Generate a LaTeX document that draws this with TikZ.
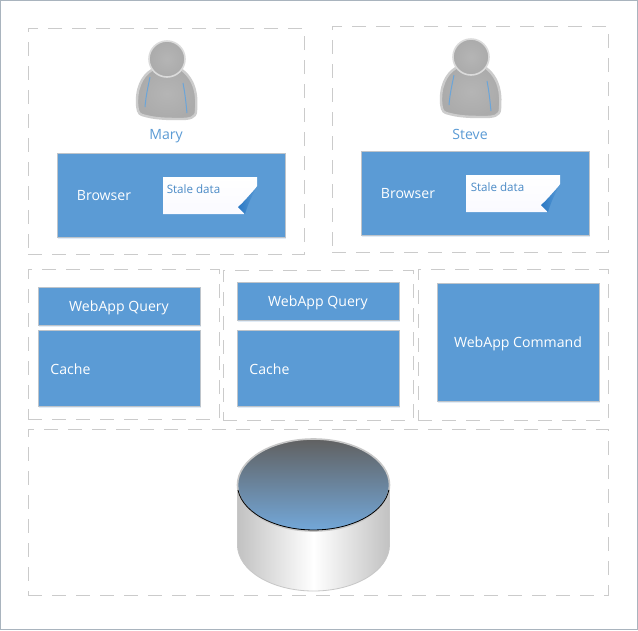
\documentclass[tikz,border=0pt]{standalone}
\usepackage{fontspec}
\setmainfont{Open Sans}
\usetikzlibrary{shadows}
\definecolor{boxblue}{HTML}{5B9BD5}
\definecolor{boxedge}{HTML}{BEC4CA}
\definecolor{dashgrey}{HTML}{CBCBCB}
\definecolor{frameg}{HTML}{A9B4BE}
\definecolor{labelblue}{HTML}{5B9BD5}
\definecolor{notetext}{HTML}{4A8AC6}
\definecolor{folddark}{HTML}{2A78C4}
\definecolor{dbtop}{HTML}{73A8DA}
\tikzset{
  x=1pt,y=-1pt,
  group/.style={draw=dashgrey,line width=1pt,dash pattern=on 14pt off 10pt,inner sep=0pt,
    minimum width=#1},
  group/.default=10pt,
  bluebox/.style={draw=boxedge,line width=1pt,fill=boxblue,inner sep=0pt,
    drop shadow={shadow xshift=1pt,shadow yshift=-2pt,fill=boxblue,opacity=.18}},
  boxtext/.style={text=white,font=\fontsize{14.1}{17}\selectfont,inner sep=0pt},
  nametext/.style={text=labelblue,font=\fontsize{14.1}{17}\selectfont,inner sep=0pt},
  notelabel/.style={text=notetext,font=\fontsize{11.6}{13}\selectfont,inner sep=0pt},
  person/.pic={
    % body
    \path[draw=black!20,line width=2.4pt,inner color=black!29,outer color=black!33,line join=round]
      (-11,9) .. controls (-22,13) and (-30,25) .. (-30,42)
      .. controls (-30,50) and (-29,55) .. (-25,56)
      .. controls (-12,60) and (0,60) .. (14,60)
      .. controls (22,60) and (29,59) .. (29,52)
      .. controls (30,40) and (30,20) .. (12,9)
      .. controls (5,14) and (-5,14) .. (-11,9) -- cycle;
    \draw[boxblue!90!white,line width=1pt] (-17,18) .. controls (-19,28) and (-21,36) .. (-22,48);
    \draw[boxblue!90!white,line width=1pt] (16,24) .. controls (18,34) and (19,44) .. (20,54);
    % head
    \path[draw=black!14,line width=1.6pt,inner color=black!29,outer color=black!33]
      (0,0) circle[radius=18];
  },
  stickynote/.pic={
    \path[draw=none,top color=white,bottom color=black!4!blue!2!white]
      (0,0) -- (94,0) -- (94,9) .. controls (88,18) and (84,28) .. (81,37) -- (0,37) -- cycle;
    \path[left color=folddark,right color=boxblue]
      (94,10) .. controls (88,20) and (84,30) .. (82,37) -- (75,30) .. controls (82,24) and (88,16) .. (94,10) -- cycle;
  },
}
\begin{document}
\begin{tikzpicture}
\useasboundingbox (0,0) rectangle (638,630);
\fill[white] (0,0) rectangle (638,630);
\draw[frameg,line width=1pt] (0.5,0.5) rectangle (637.5,629.5);

% dashed groups
\node[group=276pt,minimum height=226pt] (gmary) at (166,141) {};
\node[group=276pt,minimum height=226pt] (gsteve) at (470,139) {};
\node[group=191pt,minimum height=150pt] (gone) at (123.5,344) {};
\node[group=190pt,minimum height=150pt] (gtwo) at (318,345) {};
\node[group=190pt,minimum height=151pt] (gthree) at (513,344.5) {};
\node[group=580pt,minimum height=166pt] (gdb) at (318,512) {};

% people
\pic at (167,59) {person};
\pic at (471,57) {person};
\node[nametext] (mary) at (166,136) {Mary};
\node[nametext] (steve) at (470,134) {Steve};

% browsers
\node[bluebox,minimum width=228pt,minimum height=84pt] (bmary) at (171,195) {};
\node[bluebox,minimum width=228pt,minimum height=84pt] (bsteve) at (475,193) {};
\node[boxtext] (tbmary) at (104,196) {Browser};
\node[boxtext] (tbsteve) at (408,194) {Browser};
\pic at (163,177) {stickynote};
\pic at (466,175) {stickynote};
\node[notelabel] (nmary) at (193.5,189) {Stale data};
\node[notelabel] (nsteve) at (497.5,187) {Stale data};

% query + cache
\node[bluebox,minimum width=162pt,minimum height=38pt] (qone) at (119,306) {};
\node[bluebox,minimum width=162pt,minimum height=76pt] (cone) at (119,368) {};
\node[bluebox,minimum width=162pt,minimum height=38pt] (qtwo) at (318,301) {};
\node[bluebox,minimum width=162pt,minimum height=76pt] (ctwo) at (318,368) {};
\node[bluebox,minimum width=162pt,minimum height=118pt] (cmd) at (518,342) {};
\node[boxtext] (tqone) at (119,308) {WebApp Query};
\node[boxtext] (tcone) at (70.5,369) {Cache};
\node[boxtext] (tqtwo) at (318,303) {WebApp Query};
\node[boxtext] (tctwo) at (269.5,369) {Cache};
\node[boxtext] (tcmd) at (518,344) {WebApp Command};

% database cylinder
\path[left color=black!24,right color=black!24,middle color=white,draw=black!22,line width=.8pt]
  (237.5,485) -- (237.5,545) arc[start angle=180,end angle=0,x radius=76,y radius=46]
  -- (389.5,485) -- cycle;
\path[draw=black!22,line width=1.6pt,top color=black!62,bottom color=dbtop]
  (313.5,485) ellipse[x radius=76,y radius=46];
\draw[black,line width=.8pt] (238,490) arc[start angle=173,end angle=7,x radius=76,y radius=45.5];
\end{tikzpicture}
\end{document}
